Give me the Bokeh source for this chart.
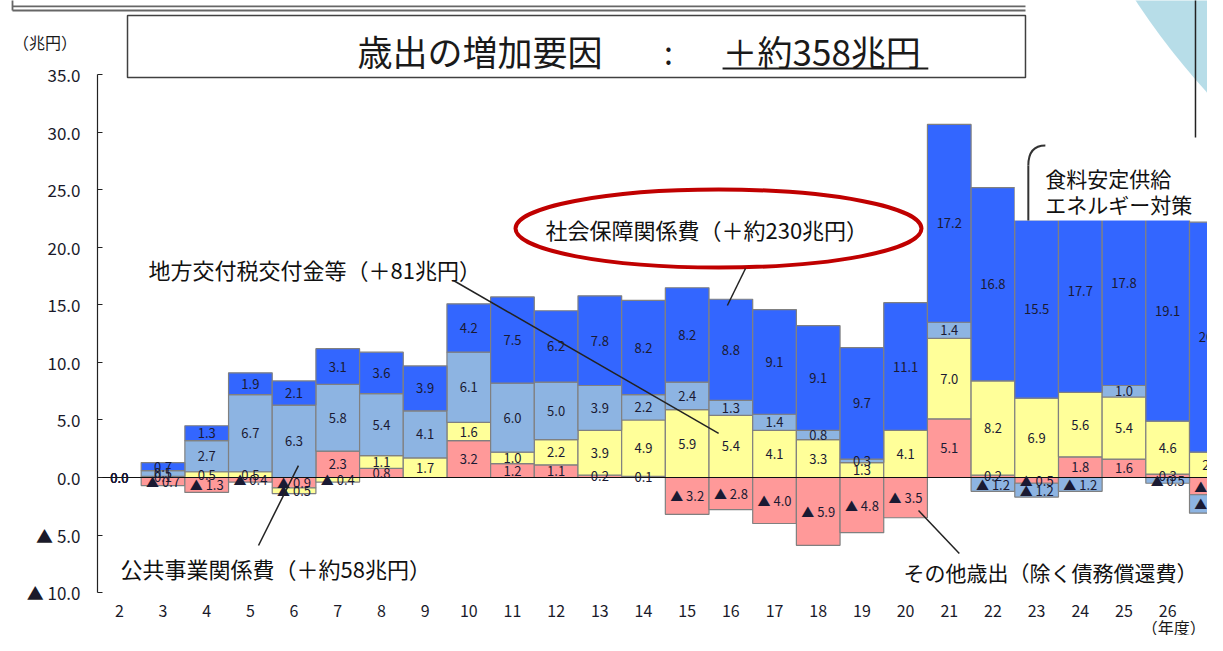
from bokeh.plotting import figure
from bokeh.models import Range1d, FixedTicker, Label
from bokeh.core.properties import value
from bokeh.embed import file_html
from bokeh.resources import INLINE

# ---- data (兆円, 平成年度) ----
years = list(range(2, 28))
other = [0.0, -0.7, -1.3, -0.4, -0.9, 2.3, 0.8, 0.0, 3.2, 1.2, 1.1, 0.2, 0.1,
         -3.2, -2.8, -4.0, -5.9, -4.8, -3.5, 5.1, 0.2, -0.5, 1.8, 1.6, 0.3, -1.5]
local_tax = [0.0, 0.1, 0.5, 0.5, -0.5, -0.4, 1.1, 1.7, 1.6, 1.0, 2.2, 3.9, 4.9,
             5.9, 5.4, 4.1, 3.3, 1.3, 4.1, 7.0, 8.2, 6.9, 5.6, 5.4, 4.6, 2.2]
public_works = [0.0, 0.5, 2.7, 6.7, 6.3, 5.8, 5.4, 4.1, 6.1, 6.0, 5.0, 3.9, 2.2,
                2.4, 1.3, 1.4, 0.8, 0.3, 0.0, 1.4, -1.2, -1.2, -1.2, 1.0, -0.5, -1.6]
social = [0.0, 0.7, 1.3, 1.9, 2.1, 3.1, 3.6, 3.9, 4.2, 7.5, 6.2, 7.8, 8.2,
          8.2, 8.8, 9.1, 9.1, 9.7, 11.1, 17.2, 16.8, 15.5, 17.7, 17.8, 19.1, 20.0]
series = [other, local_tax, public_works, social]
colors = ["#FF9999", "#FFFF99", "#8DB4E2", "#3366FF"]
y_ticks = [-10, -5, 0, 5, 10, 15, 20, 25, 30, 35]

JP = "Noto Sans CJK JP"
NUM = "Liberation Sans"

p = figure(width=1207, height=635, x_range=Range1d(-0.7207, 26.912), y_range=Range1d(-13.739, 41.478),
           output_backend="svg", toolbar_location=None, min_border=0,
           min_border_left=0, min_border_right=0, min_border_top=0, min_border_bottom=0)
p.outline_line_color = None
p.xgrid.grid_line_color = None
p.ygrid.grid_line_color = None
p.background_fill_color = "white"

# axes drawn at fixed data locations inside the frame
p.yaxis.fixed_location = 1.5
p.yaxis.ticker = FixedTicker(ticks=y_ticks)
p.yaxis.bounds = (-10, 35)
p.yaxis.major_label_overrides = {t: (f"{t:.1f}" if t >= 0 else f"▲ {abs(t):.1f}") for t in y_ticks}
p.yaxis.major_tick_in = 5
p.yaxis.major_tick_out = 0
p.yaxis.minor_tick_line_color = None
p.yaxis.axis_line_color = "#222222"
p.yaxis.axis_line_width = 1.2
p.yaxis.major_tick_line_color = "#222222"
p.yaxis.major_label_standoff = 17
p.yaxis.major_label_text_font = JP
p.yaxis.major_label_text_font_size = "17px"
p.yaxis.major_label_text_color = "#1a1a2a"

p.xaxis.fixed_location = -10
p.xaxis.ticker = FixedTicker(ticks=years)
p.xaxis.axis_line_color = None
p.xaxis.major_tick_line_color = None
p.xaxis.minor_tick_line_color = None
p.xaxis.major_tick_out = 0
p.xaxis.major_tick_in = 0
p.xaxis.major_label_standoff = 12
p.xaxis.major_label_text_font = JP
p.xaxis.major_label_text_font_size = "16px"
p.xaxis.major_label_text_color = "#1a1a2a"

# stacked bars
n = len(years)
pos = [0.0] * n
neg = [0.0] * n
lab_x, lab_y, lab_t = [], [], []
for vals, col in zip(series, colors):
    L, R, T, B = [], [], [], []
    for i, v in enumerate(vals):
        if v >= 0:
            b, t = pos[i], pos[i] + v
            pos[i] = t
        else:
            b, t = neg[i] + v, neg[i]
            neg[i] = b
        if v != 0:
            L.append(years[i] - 0.5); R.append(years[i] + 0.5); T.append(t); B.append(b)
        if v != 0 or years[i] == 2:
            lab_x.append(years[i]); lab_y.append((b + t) / 2)
            lab_t.append(f"{v:.1f}" if v >= 0 else f"▲ {abs(v):.1f}")
    p.quad(left=L, right=R, top=T, bottom=B, fill_color=col, line_color="#808080", line_width=1.2)

# zero baseline from the axis to the right
p.segment(x0=[years[0] - 0.5], y0=[0], x1=[years[-1] + 0.5], y1=[0], line_color="#111111", line_width=1.2)

p.text(x=lab_x, y=lab_y, text=lab_t, text_align="center", text_baseline="middle",
       text_font=value(JP), text_font_size="13px", text_color="#1a1a33")

# white cover over clipped region (callout area)
p.quad(left=[22.5], right=[27.3], bottom=[22.35], top=[42.0], fill_color="white", line_color=None)

# decorative circle and vertical line at top-right
p.circle(x=[39.85], y=[78.0], radius=763, radius_units="screen", fill_color="#B7DDE8", line_color=None)
p.segment(x0=[26.637], y0=[42.0], x1=[26.637], y1=[29.57], line_color="#222222", line_width=1.5)

# top double rule
p.segment(x0=[-0.446, -0.446], y0=[40.96, 40.61], x1=[22.745, 22.745], y1=[40.96, 40.61],
          line_color="#666666", line_width=1.8)
p.segment(x0=[-0.446], y0=[42.0], x1=[-0.446], y1=[40.61], line_color="#666666", line_width=1.8)

# title box
p.quad(left=[2.187], right=[22.745], top=[40.17], bottom=[34.78], fill_color="white",
       line_color="#404040", line_width=1.5)
p.text(x=[7.452], y=[37.13], text=["歳出の増加要因"], text_font=value(JP), text_font_size="35px",
       text_baseline="middle", text_align="left", text_color="#1a1a1a")
p.text(x=[14.57], y=[37.13], text=[":"], text_font=value(JP), text_font_size="32px",
       text_baseline="middle", text_align="center", text_color="#1a1a1a")
p.text(x=[15.81], y=[37.13], text=["＋約358兆円"], text_font=value(JP), text_font_size="35px",
       text_baseline="middle", text_align="left", text_color="#1a1a1a")
p.segment(x0=[15.81], y0=[35.57], x1=[20.52], y1=[35.57], line_color="#1a1a1a", line_width=2)

# annotations
ann = dict(text_font=value(JP), text_font_size="22px", text_baseline="middle",
           text_align="left", text_color="#111111")
p.text(x=[2.668], y=[18.17], text=["地方交付税交付金等（＋81兆円）"], **ann)
p.text(x=[11.756], y=[21.65], text=["社会保障関係費（＋約230兆円）"], **ann)
p.text(x=[2.027], y=[-7.91], text=["公共事業関係費（＋約58兆円）"], **ann)
p.text(x=[19.95], y=[-8.26], text=["その他歳出（除く債務償還費）"],
       text_font=value(JP), text_font_size="21px", text_baseline="middle",
       text_align="left", text_color="#111111")

p.ellipse(x=[15.717], y=[21.65], width=406, height=78, width_units="screen", height_units="screen",
          fill_color=None, line_color="#C00000", line_width=4)

# leader lines
p.segment(x0=[9.65, 16.335, 5.186, 21.23], y0=[17.13, 18.17, -5.91, -6.61],
          x1=[15.72, 15.92, 6.10, 20.296], y1=[3.83, 14.96, 1.04, -2.87],
          line_color="#222222", line_width=1.5)

# callout bracket and text
p.quadratic(x0=[23.20], y0=[28.87], x1=[22.81], y1=[27.13], cx=[22.81], cy=[28.87],
            line_color="#333333", line_width=2)
p.segment(x0=[22.81], y0=[27.13], x1=[22.81], y1=[22.35], line_color="#333333", line_width=2)
cal = dict(text_font=value(JP), text_font_size="21px", text_baseline="middle",
           text_align="left", text_color="#111111")
p.text(x=[23.20], y=[26.0], text=["食料安定供給"], **cal)
p.text(x=[23.20], y=[23.74], text=["エネルギー対策"], **cal)

# unit labels
p.add_layout(Label(x=0.3, y=37.83, text="（兆円）", text_font=JP, text_font_size="16px",
                   text_align="center", text_baseline="middle", text_color="#1a1a1a"))
p.add_layout(Label(x=26.87, y=-13.0, text="（年度）", text_font=JP, text_font_size="16px",
                   text_align="right", text_baseline="middle", text_color="#1a1a1a"))

open("out.html", "w").write(file_html(p, INLINE))
